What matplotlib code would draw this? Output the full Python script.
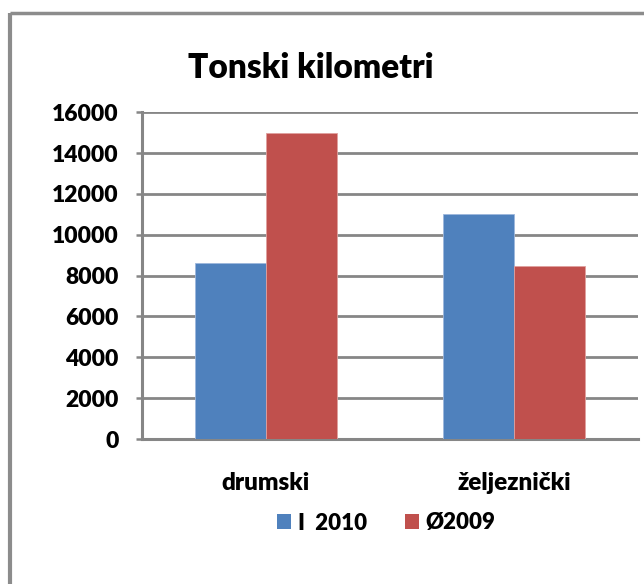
import matplotlib
matplotlib.use("Agg")
import matplotlib.pyplot as plt
from matplotlib.patches import Patch
import numpy as np

categories = ["drumski", "željeznički"]
series_names = ["I  2010", "Ø2009"]
values_2010 = [8600, 11000]
values_2009 = [15000, 8450]
yticks = [0, 2000, 4000, 6000, 8000, 10000, 12000, 14000, 16000]
title = "Tonski kilometri"

plt.rcParams['font.family'] = ['Lato', 'DejaVu Sans']
W, H = 644, 584
fig = plt.figure(figsize=(W / 100, H / 100), dpi=100)
fig.patch.set_facecolor("white")

# outer chart frame (cropped at right and bottom)
frame_col = "#8c8c8c"
fig.add_artist(plt.Line2D([10 / W, 10 / W], [0, 1 - 13 / H], transform=fig.transFigure,
                          color=frame_col, lw=3, solid_capstyle="butt"))
fig.add_artist(plt.Line2D([10 / W, 1], [1 - 13 / H, 1 - 13 / H], transform=fig.transFigure,
                          color=frame_col, lw=2.5, solid_capstyle="butt"))

left, right = 142 / W, 638 / W
top, bottom = 1 - 112.3 / H, 1 - 439 / H
ax = fig.add_axes([left, bottom, right - left, top - bottom])

grid_col = "#868686"
x = np.arange(len(categories))
bw = 0.288
ax.bar(x - bw / 2, values_2010, bw, color="#4F81BD", edgecolor="#9db7dc", linewidth=0.6, zorder=3,
       label=series_names[0])
ax.bar(x + bw / 2, values_2009, bw, color="#C0504D", edgecolor="#e0a09e", linewidth=0.6, zorder=3,
       label=series_names[1])

ax.set_xlim(-0.5, 1.5)
ax.set_ylim(0, 16000)
ax.set_yticks(yticks)
ax.set_yticklabels([str(t) for t in yticks], fontsize=16.5, fontweight="heavy")
ax.set_xticks(x)
ax.set_xticklabels(categories, fontsize=17.5, fontweight="heavy")
ax.tick_params(axis="x", length=0, pad=24)
ax.tick_params(axis="y", length=4, width=1.8, color=grid_col, pad=13)
ax.grid(axis="y", color=grid_col, linewidth=2, zorder=0)
ax.set_axisbelow(True)
for s in ["top", "right"]:
    ax.spines[s].set_visible(False)
ax.spines["left"].set_color(grid_col)
ax.spines["left"].set_linewidth(2.2)
ax.spines["bottom"].set_color(grid_col)
ax.spines["bottom"].set_linewidth(2.2)

fig.text(311 / W, 1 - 68 / H, title, fontsize=24, fontweight="heavy", ha="center", va="center")

handles = [Patch(facecolor="#4F81BD"), Patch(facecolor="#C0504D")]
fig.legend(handles, series_names, loc="center", bbox_to_anchor=(386 / W, 1 - 523 / H), ncol=2,
           frameon=False, prop={"size": 16, "weight": "heavy"}, handlelength=0.65, handleheight=0.65,
           handletextpad=0.3, columnspacing=1.7)

fig.savefig("out.png", dpi=100, facecolor="white")
